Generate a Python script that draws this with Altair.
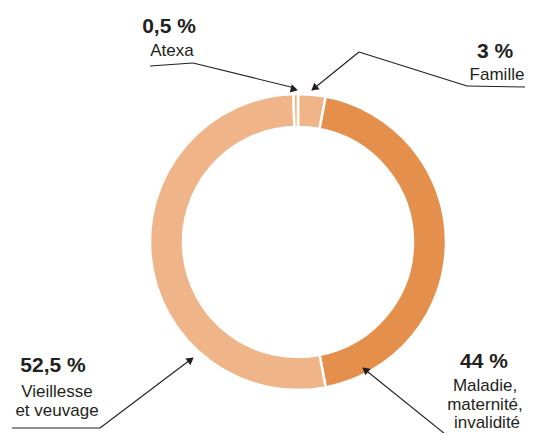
import altair as alt
import pandas as pd
import math

# Slice data (clockwise from 12 o'clock)
categories = ["Famille", "Maladie, maternité, invalidité", "Vieillesse et veuvage", "Atexa"]
shares = [3, 44, 52.5, 0.5]
slice_colors = ["#EFB589", "#E4904C", "#EFB589", "#EFB589"]

# Annotation texts (chart pixel coords; chart origin = page + 8px)
label_text = ["0,5 %", "Atexa", "3 %", "Famille", "52,5 %", "Vieillesse", "et veuvage",
              "44 %", "Maladie,", "maternité,", "invalidité"]
label_x = [161, 164, 487, 489, 45, 49, 49, 476, 477, 477, 479]
label_y = [25, 48, 50, 72, 364, 389, 408, 360, 383, 402, 420]
label_bold = [True, False, True, False, True, False, False, True, False, False, False]

# Leader line segments
seg_x = [142, 185, 304, 351, 459, 4, 92, 355]
seg_y = [58, 55, 82, 44, 78, 420, 420, 360]
seg_x2 = [185, 287, 351, 459, 519, 92, 182, 442]
seg_y2 = [55, 80, 44, 78, 79, 420, 352, 430]

# Arrow heads (tip position + from point)
tip_x = [289, 304, 185, 355]
tip_y = [82, 82, 350, 360]
from_x = [185, 351, 92, 442]
from_y = [55, 44, 420, 430]

df = pd.DataFrame({"cat": categories, "share": shares,
                   "order": list(range(len(categories))), "color": slice_colors})

arc = alt.Chart(df).mark_arc(radius=148, radius2=115, stroke="white", strokeWidth=2.5).encode(
    theta=alt.Theta("share:Q", stack=True),
    order=alt.Order("order:Q"),
    color=alt.Color("color:N", scale=None),
    x=alt.value(290), y=alt.value(234),
)

lab = pd.DataFrame({"t": label_text, "x": label_x, "y": label_y,
                    "w": ["bold" if b else "normal" for b in label_bold]})

txt_bold = alt.Chart(lab[lab.w == "bold"]).mark_text(
    font="Liberation Sans", fontWeight="bold", fontSize=21, color="#231F20",
    align="center", baseline="alphabetic").encode(
    x=alt.X("x:Q", scale=None), y=alt.Y("y:Q", scale=None), text="t:N")
txt_norm = alt.Chart(lab[lab.w == "normal"]).mark_text(
    font="Liberation Sans", fontSize=17, color="#231F20",
    align="center", baseline="alphabetic").encode(
    x=alt.X("x:Q", scale=None), y=alt.Y("y:Q", scale=None), text="t:N")

segs = pd.DataFrame({"x": seg_x, "y": seg_y, "x2": seg_x2, "y2": seg_y2})
rules = alt.Chart(segs).mark_rule(color="#231F20", strokeWidth=1.1).encode(
    x=alt.X("x:Q", scale=None), y=alt.Y("y:Q", scale=None),
    x2="x2:Q", y2="y2:Q")

angles = []
for tx, ty, fx, fy in zip(tip_x, tip_y, from_x, from_y):
    a = math.degrees(math.atan2(tx - fx, -(ty - fy))) % 360
    angles.append(a)
# shift the triangle centroid back from the tip
hx, hy = [], []
for tx, ty, a in zip(tip_x, tip_y, angles):
    r = math.radians(a)
    hx.append(tx - 4 * math.sin(r))
    hy.append(ty + 4 * math.cos(r))
heads = pd.DataFrame({"x": hx, "y": hy, "a": angles})
arrow = alt.Chart(heads).mark_point(shape="triangle", filled=True, color="#231F20",
                                    opacity=1, size=70).encode(
    x=alt.X("x:Q", scale=None), y=alt.Y("y:Q", scale=None),
    angle=alt.Angle("a:Q", scale=None))

chart = alt.layer(arc, rules, arrow, txt_bold, txt_norm).properties(
    width=517, height=425, padding=0, autosize="none"
).configure_view(stroke=None)

chart.save("out.html", embed_options={"renderer": "svg", "actions": False})
